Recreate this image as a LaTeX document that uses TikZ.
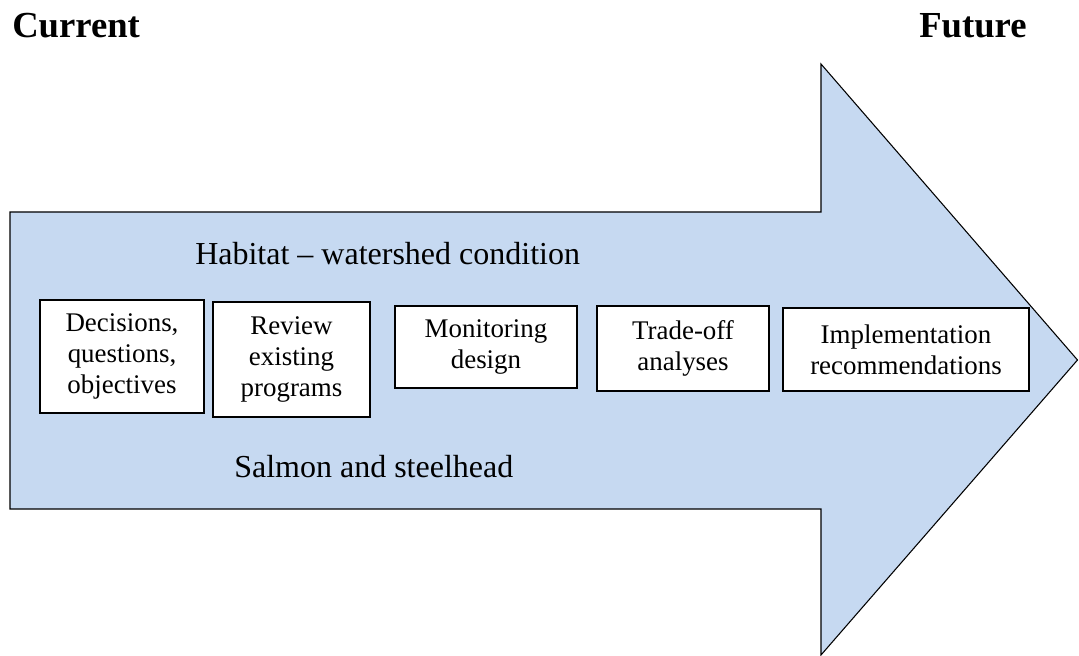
\documentclass[tikz,border=0pt]{standalone}
\usepackage{fontspec}
\setmainfont{Liberation Serif}
\definecolor{arrowblue}{RGB}{198,217,241}
\begin{document}
\begin{tikzpicture}[x=0.75pt,y=-0.75pt,
  arrowshape/.style={draw=black,line width=0.8pt,fill=arrowblue,line join=miter},
  stepbox/.style 2 args={draw=black,line width=1.1pt,fill=white,inner sep=0pt,
    minimum width=#1*0.75pt,minimum height=#2*0.75pt,align=center,
    font=\fontsize{20.2pt}{23.2pt}\selectfont},
  heading/.style={font=\fontsize{27.5pt}{30pt}\selectfont\bfseries,inner sep=0pt,anchor=base west},
  band/.style={font=\fontsize{24pt}{28pt}\selectfont,inner sep=0pt,anchor=base west}]
\useasboundingbox (0,0) rectangle (1079,656);

% the big arrow
\draw[arrowshape] (10,212) -- (821,212) -- (821,64) -- (1077.5,360)
  -- (821,655) -- (821,509) -- (10,509) -- cycle;

% headings
\node[heading] (cur) at (12,38) {Current};
\node[heading] (fut) at (919,38) {Future};

% labels inside the arrow
\node[band] (hab) at (195,265) {Habitat -- watershed condition};
\node[band] (sal) at (234,477) {Salmon and steelhead};

% process steps
\node[stepbox={164}{113}] (b1) at (122,356.5) {Decisions,\\questions,\\objectives};
\node[stepbox={157}{115}] (b2) at (291.5,359.5) {Review\\existing\\programs};
\node[stepbox={182}{82}] (b3) at (486,347) {Monitoring\\design};
\node[stepbox={172}{85}] (b4) at (683,348.5) {Trade-off\\analyses};
\node[stepbox={246}{83}] (b5) at (906,349.5) {Implementation\\recommendations};
\end{tikzpicture}
\end{document}
